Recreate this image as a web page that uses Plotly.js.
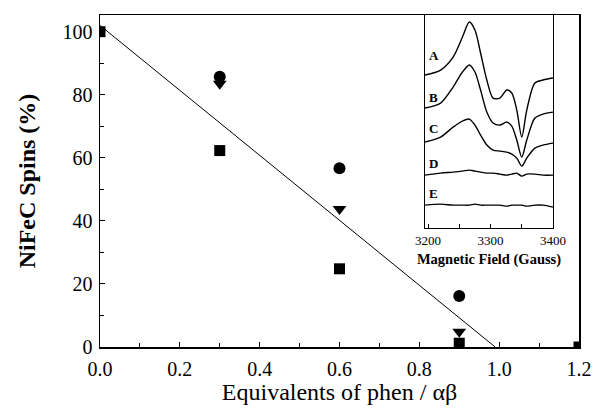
<!DOCTYPE html>
<html>
<head>
<meta charset="utf-8">
<script src="https://cdn.plot.ly/plotly-3.0.1.min.js"></script>
<style>html,body{margin:0;padding:0;background:#fff}#chart{width:595px;height:408px}</style>
</head>
<body>
<div id="chart"></div>
<script>
// Main plot data
var circleX = [0.3, 0.6, 0.9];
var circleY = [85.7, 56.7, 16.2];
var triX = [0.3, 0.6, 0.9];
var triY = [83.5, 43.8, 4.8];
var squareX = [0.0, 0.3, 0.6, 0.9, 1.2];
var squareY = [100, 62.3, 24.8, 1.2, 0];
var fitX = [0.0, 0.99];
var fitY = [102, 0];

// Inset EPR spectra (field in Gauss, arbitrary offset intensity)
var fieldG = [3195, 3220, 3240, 3255, 3266, 3275, 3284, 3294, 3304, 3315, 3326, 3334, 3342, 3350, 3358, 3371, 3384, 3400];
var specA = [153,158,171,191,206,198,175,148,130,130,138,135,118,91,118,145,148,150];
var specB = [120,125,141,156,163,156,138,116,105,103,106,102,88,71,88,110,114,116];
var specC = [86,91,101,107,109,103,93,83,78,77,76,74,70,62,70,80,83,85];
var specD = [53,55,56,57,58,57,56,55,55,54,53,54,55,52,54,54,53,53];
var specE = [23,24,23,23,23,24,23,23,23,23,22,23,23,23,22,23,23,21];
var specLabels = ['A','B','C','D','E'];
var labelY = [173, 131, 100, 65, 35];
var insetTicks = [3200, 3300, 3400];

var FONT = "'Liberation Serif', 'DejaVu Serif', serif";
var traces = [
  {x: fitX, y: fitY, mode: 'lines', line: {color: '#000', width: 1}, hoverinfo: 'skip'},
  {x: circleX, y: circleY, mode: 'markers', marker: {symbol: 'circle', size: 12, color: '#000'}},
  {x: triX, y: triY, mode: 'markers', marker: {symbol: 'triangle-down', size: 12, color: '#000'}},
  {x: squareX, y: squareY, mode: 'markers', marker: {symbol: 'square', size: 11, color: '#000'}}
];
[specA, specB, specC, specD, specE].forEach(function (s) {
  traces.push({x: fieldG, y: s, xaxis: 'x2', yaxis: 'y2', mode: 'lines',
    line: {color: '#000', width: 1.4, shape: 'spline', smoothing: 0.8}});
});

var annotations = specLabels.map(function (t, i) {
  return {text: '<b>' + t + '</b>', x: 3209, y: labelY[i], xref: 'x2', yref: 'y2', showarrow: false,
    font: {family: FONT, size: 13, color: '#000'}};
});

var layout = {
  width: 595, height: 408,
  margin: {l: 100, r: 16, t: 15, b: 61},
  paper_bgcolor: '#fff', plot_bgcolor: '#fff',
  showlegend: false,
  font: {family: FONT, color: '#000'},
  xaxis: {
    range: [0, 1.2], tickvals: [0, 0.2, 0.4, 0.6, 0.8, 1.0, 1.2],
    ticktext: ['0.0', '0.2', '0.4', '0.6', '0.8', '1.0', '1.2'],
    ticks: 'inside', ticklen: 5, tickcolor: '#000', ticklabelstandoff: 3,
    minor: {dtick: 0.1, ticks: 'inside', ticklen: 4, tickcolor: '#000'},
    showline: true, linecolor: '#000', linewidth: 1.5, mirror: true,
    showgrid: false, zeroline: false,
    tickfont: {family: FONT, size: 20, color: '#000'},
    title: {text: 'Equivalents of phen / αβ', font: {family: FONT, size: 24, color: '#000'}, standoff: 0}
  },
  yaxis: {
    range: [0, 105.3], tickvals: [0, 20, 40, 60, 80, 100],
    ticks: 'inside', ticklen: 5, tickcolor: '#000', ticklabelstandoff: 2,
    minor: {dtick: 10, ticks: 'inside', ticklen: 4, tickcolor: '#000'},
    showline: true, linecolor: '#000', linewidth: 1.5, mirror: true,
    showgrid: false, zeroline: false,
    tickfont: {family: FONT, size: 20, color: '#000'},
    title: {text: '<b>NiFeC Spins (%)</b>', font: {family: FONT, size: 24, color: '#000'}, standoff: 20}
  },
  xaxis2: {
    domain: [0.6785, 0.9457], anchor: 'y2', range: [3195, 3400],
    tickvals: insetTicks, ticks: 'inside', ticklen: 4, tickcolor: '#000',
    minor: {dtick: 50, ticks: 'inside', ticklen: 4, tickcolor: '#000'},
    showline: true, linecolor: '#000', linewidth: 1, mirror: true,
    showgrid: false, zeroline: false,
    tickfont: {family: FONT, size: 13, color: '#000'},
    title: {text: '<b>Magnetic Field (Gauss)</b>', font: {family: FONT, size: 14.5, color: '#000'}, standoff: 7}
  },
  yaxis2: {
    domain: [0.358, 1.0], anchor: 'x2', range: [0, 213],
    showticklabels: false, ticks: '', showline: true, linecolor: '#000', linewidth: 1, mirror: true,
    showgrid: false, zeroline: false
  },
  annotations: annotations
};

Plotly.newPlot('chart', traces, layout, {displayModeBar: false, staticPlot: true});
</script>
</body>
</html>
